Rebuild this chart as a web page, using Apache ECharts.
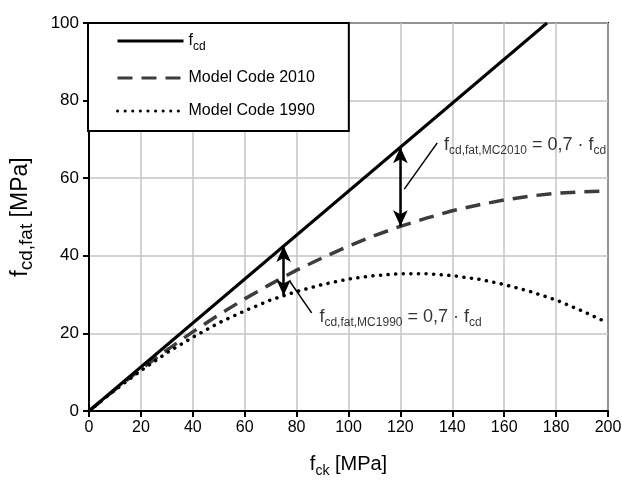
<!DOCTYPE html>
<html>
<head>
<meta charset="utf-8">
<script src="https://cdn.jsdelivr.net/npm/echarts@6/dist/echarts.min.js"></script>
<style>
html,body{margin:0;padding:0;background:#fff;}
#c{width:622px;height:482px;}
</style>
</head>
<body>
<div id="c"></div>
<script>
// f_ck values [MPa]
const fck = [0,10,20,30,40,50,60,70,80,90,100,110,120,130,140,150,160,170,180,190,200];
// f_cd line (end points)
const fcdX = [0, 176.5];
const fcdY = [0, 100];
// Model Code 2010 fatigue strength
const mc2010 = [0,5.5,10.8,15.7,20.4,24.8,28.9,32.7,36.3,39.5,42.5,45.2,47.6,49.7,51.6,53.1,54.4,55.4,56.1,56.5,56.7];
// Model Code 1990 fatigue strength
const mc1990 = [0,5.4,10.4,15.0,19.0,22.7,25.8,28.6,30.8,32.6,34.0,34.9,35.4,35.4,34.9,34.0,32.6,30.8,28.6,25.8,22.7];
// x/y tick settings
const xTicks = {min:0, max:200, step:20};
const yTicks = {min:0, max:100, step:20};
// annotation arrows [x, yTop, yBottom]
const arrow2010 = [120, 68.0, 47.6];
const arrow1990 = [75, 42.5, 29.8];
// leader lines [[x1,y1],[x2,y2]]
const leader2010 = [[121.5, 57.2], [134.2, 69.1]];
const leader1990 = [[77.3, 33.5], [85.8, 25.3]];
// annotation label anchors [x, y]
const label2010Pos = [136.8, 68.6];
const label1990Pos = [88.8, 24.3];

const FONT = "'Liberation Sans', Arial, sans-serif";
function rich(main, sub, lh) {
  return {
    b: {fontSize: main, fontFamily: FONT, color: '#000', lineHeight: lh},
    s: {fontSize: sub, fontFamily: FONT, color: '#000', lineHeight: sub, verticalAlign: 'bottom'}
  };
}

const chart = echarts.init(document.getElementById('c'), null, {renderer: 'canvas'});

const option = {
  animation: false,
  backgroundColor: '#fff',
  grid: {left: 89, top: 23, right: 14, bottom: 71, show: true, borderColor: '#000', borderWidth: 2,
         backgroundColor: 'transparent', containLabel: false, outerBoundsMode: 'none'},
  legend: {
    orient: 'vertical',
    left: 88, top: 23,
    padding: [10, 34, 12, 28],
    itemWidth: 66, itemHeight: 14, itemGap: 17,
    backgroundColor: '#fff',
    borderColor: '#000', borderWidth: 2,
    itemStyle: {opacity: 0},
    lineStyle: {width: 3},
    data: ['fcd', 'Model Code 2010', 'Model Code 1990'],
    formatter: function (n) { return n === 'fcd' ? '{b|f}{s|cd}' : '{b|' + n + '}'; },
    textStyle: {fontSize: 16, fontFamily: FONT, color: '#000', rich: rich(16, 12, 24)}
  },
  xAxis: {
    type: 'value', min: xTicks.min, max: xTicks.max, interval: xTicks.step,
    name: '{b|f}{s|ck}{b| [MPa]}', nameLocation: 'middle', nameGap: 39,
    nameTextStyle: {rich: rich(20, 14, 28)},
    axisLine: {lineStyle: {color: '#000', width: 2}},
    axisTick: {length: 6, lineStyle: {color: '#000', width: 2}},
    axisLabel: {fontSize: 16, fontFamily: FONT, color: '#000', margin: 9},
    splitLine: {show: true, lineStyle: {color: '#c4c4c4', width: 1.5}}
  },
  yAxis: {
    type: 'value', min: yTicks.min, max: yTicks.max, interval: yTicks.step,
    name: '{b|f}{s|cd,fat}{b| [MPa]}', nameLocation: 'middle', nameGap: 53, nameRotate: 90,
    nameTextStyle: {rich: rich(23, 19, 30)},
    axisLine: {lineStyle: {color: '#000', width: 2}},
    axisTick: {length: 6, lineStyle: {color: '#000', width: 2}},
    axisLabel: {fontSize: 17, fontFamily: FONT, color: '#000', margin: 10},
    splitLine: {show: true, lineStyle: {color: '#c4c4c4', width: 1.5}}
  },
  series: [
    {
      name: 'fcd', type: 'line', symbol: 'none', z: 5,
      lineStyle: {color: '#000', width: 3},
      itemStyle: {color: '#000'},
      data: fcdX.map((x, i) => [x, fcdY[i]]),
      markLine: {
        silent: true, symbol: ['arrow', 'arrow'], symbolSize: [11, 16],
        lineStyle: {color: '#000', width: 2.5, type: 'solid'}, label: {show: false},
        data: [
          [{coord: [arrow2010[0], arrow2010[1]]}, {coord: [arrow2010[0], arrow2010[2]]}],
          [{coord: [arrow1990[0], arrow1990[1]]}, {coord: [arrow1990[0], arrow1990[2]]}]
        ]
      }
    },
    {
      name: 'Model Code 2010', type: 'line', symbol: 'none', z: 4,
      lineStyle: {color: '#3c3c3c', width: 3.5, type: [15, 9]},
      itemStyle: {color: '#3c3c3c'},
      data: fck.map((x, i) => [x, mc2010[i]]),
      markLine: {
        silent: true, symbol: 'none',
        lineStyle: {color: '#000', width: 1.5, type: 'solid'}, label: {show: false},
        data: [
          [{coord: leader2010[0]}, {coord: leader2010[1]}],
          [{coord: leader1990[0]}, {coord: leader1990[1]}]
        ]
      }
    },
    {
      name: 'Model Code 1990', type: 'line', symbol: 'none', z: 4,
      lineStyle: {color: '#000', width: 3.5, type: [0.1, 7.5], cap: 'round'},
      itemStyle: {color: '#000'},
      data: fck.map((x, i) => [x, mc1990[i]])
    },
    {
      name: 'labels', type: 'scatter', symbolSize: 0, z: 6, silent: true,
      data: [
        {value: label2010Pos, label: {formatter: '{b|f}{s|cd,fat,MC2010}{b| = 0,7 · f}{s|cd}'}},
        {value: label1990Pos, label: {formatter: '{b|f}{s|cd,fat,MC1990}{b| = 0,7 · f}{s|cd}'}}
      ],
      label: {show: true, position: 'right', distance: 0, rich: rich(18, 12, 24)}
    }
  ]
};
chart.setOption(option);
</script>
</body>
</html>
